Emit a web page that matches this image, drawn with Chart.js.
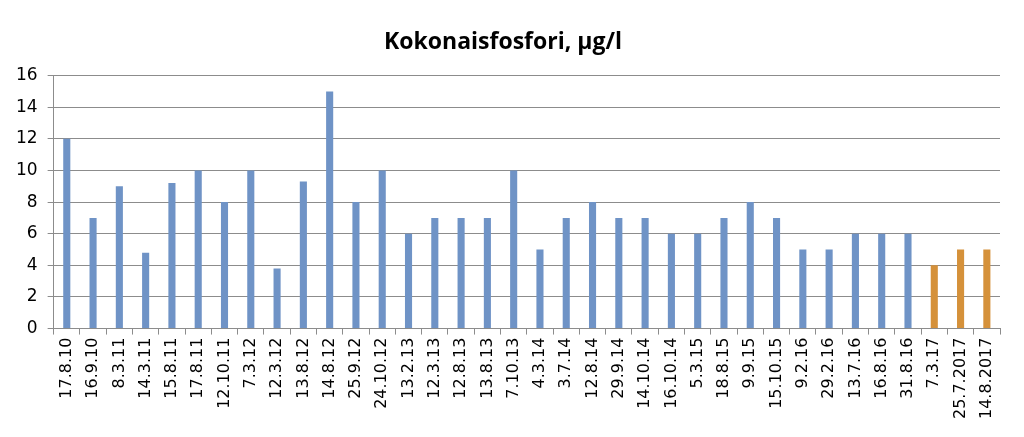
<!DOCTYPE html>
<html>
<head>
<meta charset="utf-8">
<script src="https://cdn.jsdelivr.net/npm/chart.js@4/dist/chart.umd.min.js"></script>
<style>
  html, body { margin: 0; padding: 0; background: #fff; }
  #wrap { width: 1024px; height: 437px; }
</style>
</head>
<body>
<div id="wrap"><canvas id="c" width="1024" height="437"></canvas></div>
<script>
const categories = ["17.8.10","16.9.10","8.3.11","14.3.11","15.8.11","17.8.11","12.10.11","7.3.12","12.3.12","13.8.12","14.8.12","25.9.12","24.10.12","13.2.13","12.3.13","12.8.13","13.8.13","7.10.13","4.3.14","3.7.14","12.8.14","29.9.14","14.10.14","16.10.14","5.3.15","18.8.15","9.9.15","15.10.15","9.2.16","29.2.16","13.7.16","16.8.16","31.8.16","7.3.17","25.7.2017","14.8.2017"];
const values = [12,7,9,4.8,9.2,10,8,10,3.8,9.3,15,8,10,6,7,7,7,10,5,7,8,7,7,6,6,7,8,7,5,5,6,6,6,4,5,5];
const highlighted = ["7.3.17","25.7.2017","14.8.2017"];
const yTicks = [0,2,4,6,8,10,12,14,16];
const titleText = "Kokonaisfosfori, µg/l";

const BLUE = "#6f93c6";
const ORANGE = "#d5913a";
const GRID = "#8c8c8c";

new Chart(document.getElementById("c"), {
  type: "bar",
  data: {
    labels: categories,
    datasets: [{
      data: values,
      backgroundColor: ctx => highlighted.includes(categories[ctx.dataIndex]) ? ORANGE : BLUE,
      barPercentage: 0.27,
      categoryPercentage: 1.0,
      borderWidth: 0
    }]
  },
  options: {
    responsive: false,
    animation: false,
    devicePixelRatio: 1,
    layout: { padding: { left: 6, right: 24, top: 10, bottom: 15 } },
    plugins: {
      legend: { display: false },
      tooltip: { enabled: false },
      title: {
        display: true,
        text: titleText,
        color: "#000",
        font: { family: "Open Sans", size: 23, weight: "bold" },
        padding: { top: 19, bottom: 19 }
      }
    },
    scales: {
      x: {
        offset: true,
        grid: { display: true, drawOnChartArea: false, drawTicks: true, tickLength: 6, color: GRID, offset: true },
        border: { display: true, color: GRID, width: 1 },
        ticks: {
          minRotation: 90, maxRotation: 90, autoSkip: false,
          color: "#000", padding: 3,
          font: { family: "DejaVu Sans", size: 16 }
        }
      },
      y: {
        min: 0, max: 16,
        afterBuildTicks: axis => { axis.ticks = yTicks.map(v => ({ value: v })); },
        grid: { color: GRID, tickLength: 6, drawTicks: true },
        border: { display: true, color: GRID, width: 1 },
        ticks: {
          stepSize: 2, color: "#000", padding: 10,
          font: { family: "DejaVu Sans", size: 17 }
        }
      }
    }
  }
});
</script>
</body>
</html>
